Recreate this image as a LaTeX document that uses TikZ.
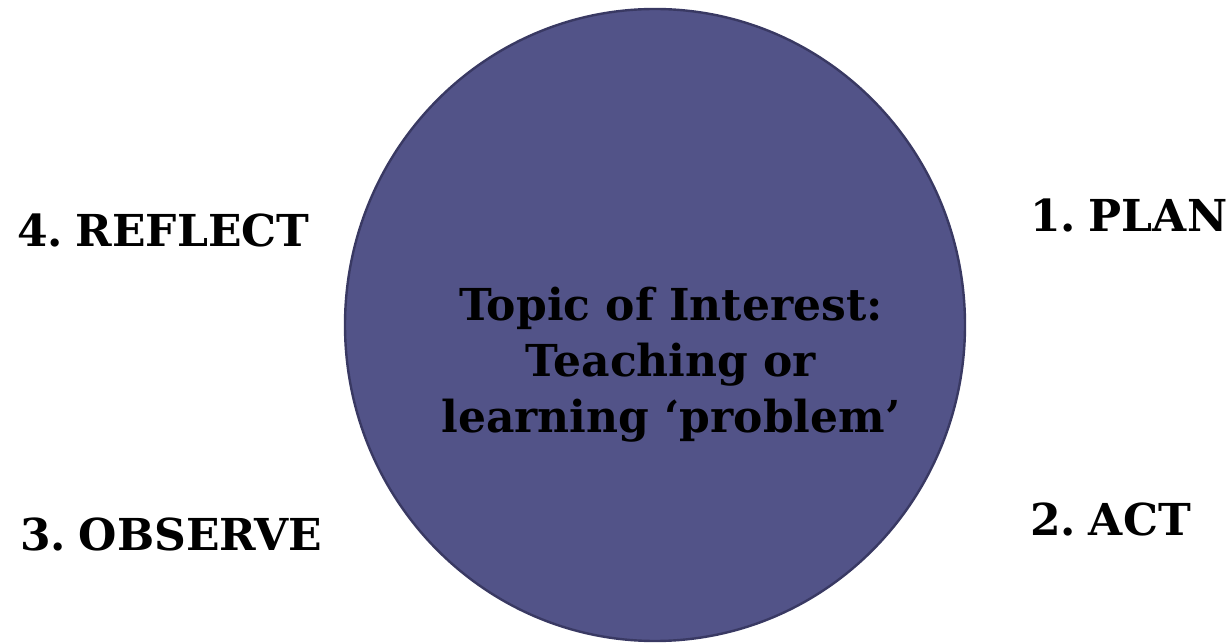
\documentclass[tikz,border=0pt]{standalone}
\usepackage{fontspec}
\usetikzlibrary{shapes.geometric}
\setmainfont{DejaVu Serif}
\newfontfamily\stagefont[WordSpace=0.5]{DejaVu Serif}
\definecolor{discfill}{HTML}{525388}
\definecolor{discedge}{HTML}{393963}
\begin{document}
\begin{tikzpicture}[x=1pt,y=1pt,
  stage/.style={inner sep=0pt,font=\stagefont\fontsize{44}{52}\selectfont\bfseries},
  topic/.style={inner sep=0pt,align=center,font=\fontsize{44}{56}\selectfont\bfseries}]
\useasboundingbox (0,0) rectangle (1229,643);
% central disc
\node[ellipse,draw=discedge,line width=2.4pt,fill=discfill,minimum width=620pt,minimum height=632pt,inner sep=0pt] (disc) at (655,318) {};
\node[topic] (topic) at (671,278) {Topic of Interest:\\Teaching or\\learning ‘problem’};
% stages of the cycle
\node[stage,anchor=base west] (plan) at (1030,411) {1. PLAN};
\node[stage,anchor=base west] (act) at (1030,108) {2. ACT};
\node[stage,anchor=base west] (observe) at (20,93) {3. OBSERVE};
\node[stage,anchor=base west] (reflect) at (17,396) {4. REFLECT};
\end{tikzpicture}
\end{document}
